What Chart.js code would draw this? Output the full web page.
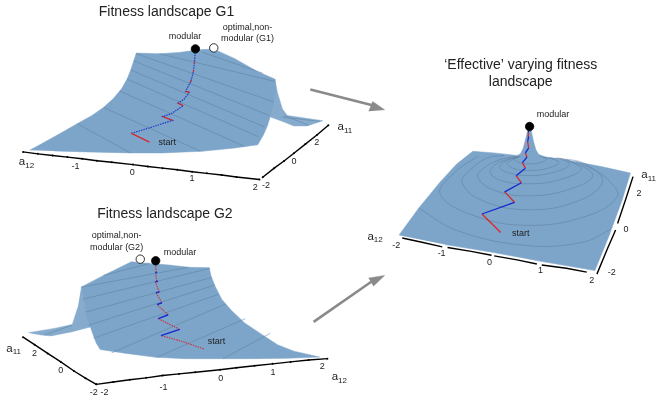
<!DOCTYPE html>
<html>
<head>
<meta charset="utf-8">
<style>
  html, body { margin: 0; padding: 0; background: #fff; }
  #wrap { width: 661px; height: 402px; }
</style>
<script src="https://cdn.jsdelivr.net/npm/chart.js@4"></script>
</head>
<body>
<div id="wrap"><canvas id="fig" width="661" height="402"></canvas></div>
<script>
// all points at 3x, local to each panel
const g1Fin = [[822,228],[830,270],[845,320],[860,340],[968,356],[920,372],[880,372],[850,360],[805,343]];
const g1Surface = [[75,447],[110,428],[165,397],[220,365],[265,340],[300,315],[330,288],[355,258],[372,228],[383,200],[392,172],[400,148],[470,150],[530,146],[590,138],[625,136],[650,142],[700,165],[770,205],[822,228],[822,270],[818,300],[810,335],[800,370],[787,400],[770,430],[700,440],[600,450],[480,455],[380,455],[250,452],[150,449]];
const g1Contours = [
  [[220,365],[382,455]],
  [[300,315],[595,450]],
  [[350,265],[730,435]],
  [[372,228],[772,405]],
  [[383,200],[790,375]],
  [[392,172],[805,340]],
  [[400,150],[818,298]],
  [[470,150],[822,235]],
  [[600,145],[785,210]],
  [[850,340],[925,370]],
  [[845,345],[960,358]]
];
const g1Solid = [[[440,422],[385,395]],[[510,355],[480,343]],[[543,310],[527,302]],[[562,268],[550,266]]];
const g1Dotted = [[385,395],[440,378],[510,355],[480,343],[505,335],[543,310],[527,302],[545,290],[562,268],[550,266],[566,235],[574,205],[577,175],[580,140]];
const g1Reds = [[[566,236],[568,231]],[[573,205],[574,200]],[[576,178],[577,174]]];
const g1AxisX = [[55,452],[100,458],[145,463],[190,468],[235,473],[280,479],[325,484],[390,491],[435,497],[480,502],[525,507],[570,513],[615,518],[660,523],[705,529],[775,537]];
const g1AxisY = [[785,530],[820,502],[850,480],[880,456],[915,428],[950,400],[985,370]];

const g2Fin = [[232,268],[240,320],[262,390],[205,405],[170,412],[140,418],[110,415],[72,408],[150,395],[205,383],[222,330]];
const g2Surface = [[232,268],[300,232],[385,190],[440,195],[500,200],[560,207],[622,208],[628,235],[640,265],[660,305],[690,340],[730,378],[780,412],[830,445],[880,465],[958,483],[860,487],[760,488],[660,488],[550,488],[460,484],[370,472],[290,460],[278,440],[265,405],[250,360],[238,310]];
const g2Contours = [
  [[808,410],[664,488]],
  [[732,365],[462,484]],
  [[672,320],[325,470]],
  [[650,290],[270,425]],
  [[638,262],[255,385]],
  [[630,238],[245,345]],
  [[625,210],[238,305]],
  [[560,207],[232,268]],
  [[440,195],[300,232]],
  [[205,385],[120,415]]
];
const g2Red = [[605,458],[540,435],[475,417]];
const g2Red2 = [[[532,398],[467,365]],[[497,353],[463,322]],[[478,316],[460,285]],[[470,283],[458,252]],[[462,250],[459,225]],[[460,222],[459,190]]];
const g2Blue = [[[475,417],[532,398]],[[467,365],[497,353]],[[463,322],[478,316]],[[460,285],[470,283]],[[458,252],[466,250]],[[458,225],[463,222]]];
const g2AxisX = [[278,567],[330,560],[380,553],[430,547],[480,540],[530,535],[580,530],[655,522],[705,516],[760,510],[815,504],[870,498],[925,492],[982,488]];
const g2AxisY = [[55,422],[90,445],[130,472],[170,498],[210,526],[245,548],[278,567]];

const fxSurface = [[180,588],[240,505],[305,425],[355,370],[405,330],[470,335],[540,343],[550,338],[558,322],[565,295],[572,268],[578,255],[584,272],[590,300],[597,325],[606,340],[625,347],[720,362],[800,378],[885,397],[860,480],[820,590],[777,697],[620,670],[460,640],[320,617]];
const fxRings = [
  [[545,347],[530,352],[545,364],[575,369],[610,365],[630,353],[608,345]],
  [[548,346],[510,368],[530,383],[575,389],[630,383],[667,365],[640,350]],
  [[545,347],[510,358],[487,378],[510,395],[575,405],[650,395],[700,370],[670,352]],
  [[550,346],[520,352],[475,370],[458,395],[490,420],[570,430],[660,420],[735,385],[690,355]],
  [[540,345],[490,355],[440,380],[420,410],[470,450],[570,467],[690,450],[770,405],[700,360],[620,350]],
  [[500,343],[450,350],[400,385],[372,425],[430,480],[570,510],[720,485],[800,425],[750,370],[660,350]],
  [[420,345],[350,395],[305,460],[400,525],[570,558],[750,530],[845,470],[820,420],[770,385],[720,362]],
  [[240,505],[360,575],[570,620],[740,610],[825,570]]
];
const fxRed = [[[490,580],[433,523]],[[532,487],[502,455]],[[553,427],[537,405]],[[565,382],[556,365]],[[570,348],[565,335]],[[575,320],[572,300]],[[575,285],[574,272]]];
const fxBlue = [[[433,523],[532,487]],[[502,455],[553,427]],[[537,405],[565,382]],[[556,365],[570,348]],[[565,335],[575,320]],[[572,300],[575,285]],[[574,272],[578,255]]];
const fxAxisX = [[[190,597],[250,610],[312,624]],[[328,626],[400,638],[462,650]],[[470,652],[540,664],[600,677]],[[615,680],[690,690],[752,702]]];
const fxAxisY = [[[783,708],[815,630],[840,572]],[[846,552],[870,480],[893,408]]];

const arrows = [[[930,260],[1125,310]],[[940,975],[1118,850]]];
const arrowHeads = [[[1157,323],[1120,297],[1108,327]],[[1157,832],[1108,840],[1123,865]]];

const markersBlack = [[580,135,'g1'],[459,187,'g2'],[578,254,'fx']];
const markersWhite = [[636,132,'g1'],[412,182,'g2']];

const titles = [
  ['Fitness landscape G1',492,22,'g1',14],
  ['Fitness landscape G2',487,42,'g2',14],
  ['\u2018Effective\u2019 varying fitness',551,65,'fx',14],
  ['landscape',551,116,'fx',14]
];
const labels = [
  ['modular',548,98,'g1'],['optimal,non-',739,70,'g1'],['modular (G1)',739,104,'g1'],['start',494,422,'g1'],
  ['optimal,non-',340,110,'g2'],['modular (G2)',340,145,'g2'],['modular',533,160,'g2'],['start',644,435,'g2'],
  ['modular',649,216,'fx'],['start',551,584,'fx']
];
const tickLabels = [
  ['-1',215,497,'g1'],['0',388,515,'g1'],['1',570,535,'g1'],['2',762,560,'g1'],['-2',795,555,'g1'],['0',880,483,'g1'],['2',950,423,'g1'],
  ['2',90,472,'g2'],['0',170,524,'g2'],['-2',270,592,'g2'],['-2',303,592,'g2'],['-1',483,576,'g2'],['0',657,548,'g2'],['1',816,530,'g2'],['2',966,512,'g2'],
  ['-2',172,620,'fx'],['-1',310,644,'fx'],['0',456,671,'fx'],['1',611,696,'fx'],['2',767,728,'fx'],['-2',828,703,'fx'],['0',872,572,'fx'],['2',911,461,'fx']
];
const axisNames = [
  ['a','12',42,484,'g1'],['a','11',1013,375,'g1'],
  ['a','11',4,457,'g2'],['a','12',995,544,'g2'],
  ['a','12',84,593,'fx'],['a','11',918,403,'fx']
];

const panelShift = { g1: [0,0], g2: [0,600], fx: [1020,120], none: [0,0] };
const surfaceBlue = '#7da5c9';
const contourBlue = '#5a7c9a';

function place(pts, panel) {
  const s = panelShift[panel];
  return pts.map(p => ({ x: p[0] + s[0], y: p[1] + s[1] }));
}

const datasets = [];
function polygon(pts, panel, color) {
  datasets.push({ data: place(pts, panel), showLine: true, fill: 'shape', backgroundColor: color, borderColor: color, borderWidth: 0.5, pointRadius: 0, tension: 0 });
}
function stroke(pts, panel, color, width, extra) {
  datasets.push(Object.assign({ data: place(pts, panel), showLine: true, fill: false, borderColor: color, borderWidth: width, pointRadius: 0, tension: 0 }, extra || {}));
}

// G1
polygon(g1Fin, 'g1', '#86abcd');
polygon(g1Surface, 'g1', surfaceBlue);
g1Contours.forEach(c => stroke(c, 'g1', contourBlue, 0.5));
stroke(g1Dotted, 'g1', '#2238c8', 1.2, { borderDash: [1.5, 1] });
g1Solid.forEach(c => stroke(c, 'g1', '#d8282c', 1.3));
g1Reds.forEach(c => stroke(c, 'g1', '#d8282c', 1.3));
stroke(g1AxisX, 'g1', '#000', 1.4, { pointRadius: 1, pointBackgroundColor: '#000', pointBorderWidth: 0 });
stroke(g1AxisY, 'g1', '#000', 1.4, { pointRadius: 1, pointBackgroundColor: '#000', pointBorderWidth: 0 });

// G2
polygon(g2Fin, 'g2', '#86abcd');
polygon(g2Surface, 'g2', surfaceBlue);
g2Contours.forEach(c => stroke(c, 'g2', contourBlue, 0.5));
stroke(g2Red, 'g2', '#c8323c', 1.1, { borderDash: [1.5, 1] });
g2Red2.forEach(c => stroke(c, 'g2', '#c8323c', 1.1, { borderDash: [1.5, 1] }));
g2Blue.forEach(c => stroke(c, 'g2', '#1428d0', 1.4));
stroke(g2AxisX, 'g2', '#000', 1.4, { pointRadius: 1, pointBackgroundColor: '#000', pointBorderWidth: 0 });
stroke(g2AxisY, 'g2', '#000', 1.4, { pointRadius: 1, pointBackgroundColor: '#000', pointBorderWidth: 0 });

// effective landscape
polygon(fxSurface, 'fx', surfaceBlue);
fxRings.forEach(c => stroke(c, 'fx', contourBlue, 0.5, { tension: 0.4 }));
fxRed.forEach(c => stroke(c, 'fx', '#d8282c', 1.3));
fxBlue.forEach(c => stroke(c, 'fx', '#1428d0', 1.3));
fxAxisX.forEach(c => stroke(c, 'fx', '#000', 1.4));
fxAxisY.forEach(c => stroke(c, 'fx', '#000', 1.4));

// arrows
arrows.forEach(a => stroke(a, 'none', '#8a8a8a', 2.6));
arrowHeads.forEach(a => polygon(a, 'none', '#8a8a8a'));

// markers
function markers(list, fillColor) {
  const pts = list.map(m => place([[m[0], m[1]]], m[2])[0]);
  datasets.push({ data: pts, showLine: false, pointRadius: 4.2, pointBackgroundColor: fillColor, pointBorderColor: '#000', pointBorderWidth: 0.8 });
}
markers(markersBlack, '#000');
markers(markersWhite, '#fff');

datasets.forEach((d, i) => { d.order = -i; });

const textPlugin = {
  id: 'panelText',
  afterDatasetsDraw(chart) {
    const { ctx, scales } = chart;
    const at = (x, y, panel) => {
      const s = panelShift[panel];
      return [scales.x.getPixelForValue(x + s[0]), scales.y.getPixelForValue(y + s[1])];
    };
    const fam = '"Liberation Sans", Arial, sans-serif';
    ctx.save();
    ctx.textBaseline = 'middle';
    ctx.fillStyle = '#222';
    ctx.textAlign = 'center';
    titles.forEach(t => {
      const p = at(t[1], t[2], t[3]);
      ctx.font = t[4] + 'px ' + fam;
      ctx.fillText(t[0], p[0], p[1]);
    });
    ctx.font = '9px ' + fam;
    labels.forEach(t => {
      const p = at(t[1], t[2], t[3]);
      ctx.fillText(t[0], p[0], p[1]);
    });
    tickLabels.forEach(t => {
      const p = at(t[1], t[2], t[3]);
      ctx.fillText(t[0], p[0], p[1]);
    });
    ctx.textAlign = 'left';
    axisNames.forEach(t => {
      const p = at(t[2], t[3], t[4]);
      ctx.font = '11.5px ' + fam;
      ctx.fillText(t[0], p[0], p[1]);
      ctx.font = '8px ' + fam;
      ctx.fillText(t[1], p[0] + 6.4, p[1] + 3.5);
    });
    ctx.restore();
  }
};

new Chart(document.getElementById('fig'), {
  type: 'scatter',
  data: { datasets },
  options: {
    responsive: false,
    animation: false,
    layout: { padding: 0 },
    plugins: { legend: { display: false }, tooltip: { enabled: false } },
    scales: {
      x: { type: 'linear', display: false, min: 0, max: 1983 },
      y: { type: 'linear', display: false, min: 0, max: 1206, reverse: true }
    }
  },
  plugins: [textPlugin]
});
</script>
</body>
</html>
